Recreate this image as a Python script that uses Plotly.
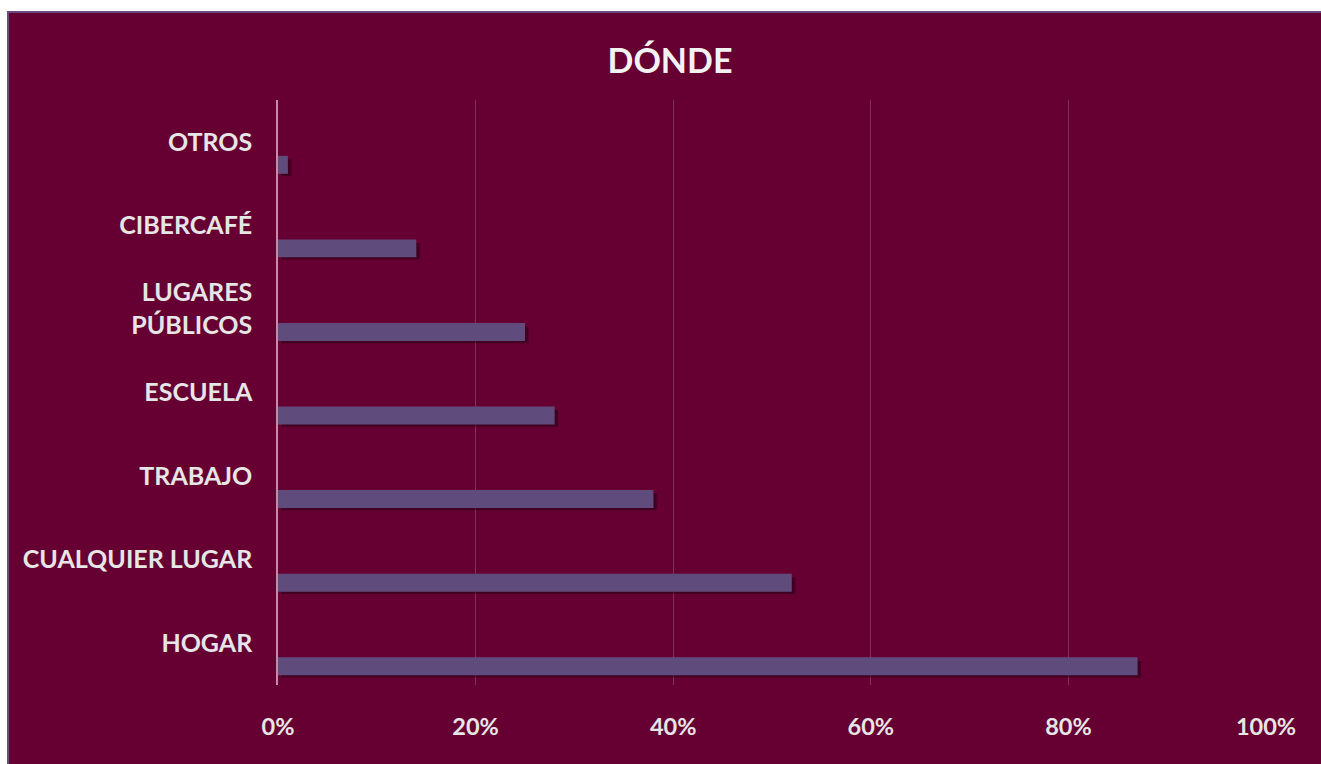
import plotly.graph_objects as go

categories = ["HOGAR", "CUALQUIER LUGAR", "TRABAJO", "ESCUELA", "LUGARES<br>PÚBLICOS", "CIBERCAFÉ", "OTROS"]
values = [87, 52, 38, 28, 25, 14, 1]
x_ticks = [0, 20, 40, 60, 80, 100]
x_tick_labels = ["0%", "20%", "40%", "60%", "80%", "100%"]
title_text = "DÓNDE"

BG = "#660033"
BAR = "#604C7C"
FONT = "Lato, 'Open Sans', sans-serif"

fig = go.Figure()
# shadow
fig.add_trace(go.Bar(
    y=categories, x=values, orientation="h",
    base=0.35, width=0.2, offset=-0.41,
    marker=dict(color="rgba(20,0,10,0.45)", line=dict(width=0)),
    hoverinfo="skip", showlegend=False,
))
fig.add_trace(go.Bar(
    y=categories, x=values, orientation="h",
    width=0.215, offset=-0.383,
    marker=dict(color=BAR, line=dict(width=0)),
    showlegend=False,
))

fig.update_layout(
    width=1321, height=764,
    paper_bgcolor="white", plot_bgcolor=BG,
    margin=dict(l=278, r=55, t=100, b=79),
    barmode="overlay",
    title=dict(text="<b>" + title_text + "</b>", x=670/1321, xanchor="center",
               y=1 - 61/764, yanchor="middle",
               font=dict(family=FONT, size=34, color="#F2F2F2")),
    font=dict(family=FONT, color="#E6E6E6"),
    shapes=[dict(type="rect", xref="paper", yref="paper", layer="below",
                 x0=-270/988, x1=1 + 60/988, y0=-90/585, y1=1 + 88/585,
                 fillcolor=BG, line=dict(color="#6A4A80", width=2))],
)
fig.update_xaxes(
    range=[0, 100], tickvals=x_ticks, ticktext=x_tick_labels,
    showgrid=True, gridcolor="#82305A", gridwidth=1,
    zeroline=False, showline=False,
    ticks="outside", ticklen=21, tickcolor="rgba(0,0,0,0)",
    tickfont=dict(family=FONT, size=23.5, color="#E6E6E6", weight="bold"),
    fixedrange=True,
)
fig.update_yaxes(
    type="category", categoryorder="array", categoryarray=categories,
    showgrid=False, zeroline=False,
    showline=True, linecolor="#C88AA8", linewidth=1.5,
    ticks="outside", ticklen=19, tickcolor="rgba(0,0,0,0)",
    tickfont=dict(family=FONT, size=25, color="#E6E6E6", weight="bold"),
    fixedrange=True,
)

fig.write_html("out.html")
